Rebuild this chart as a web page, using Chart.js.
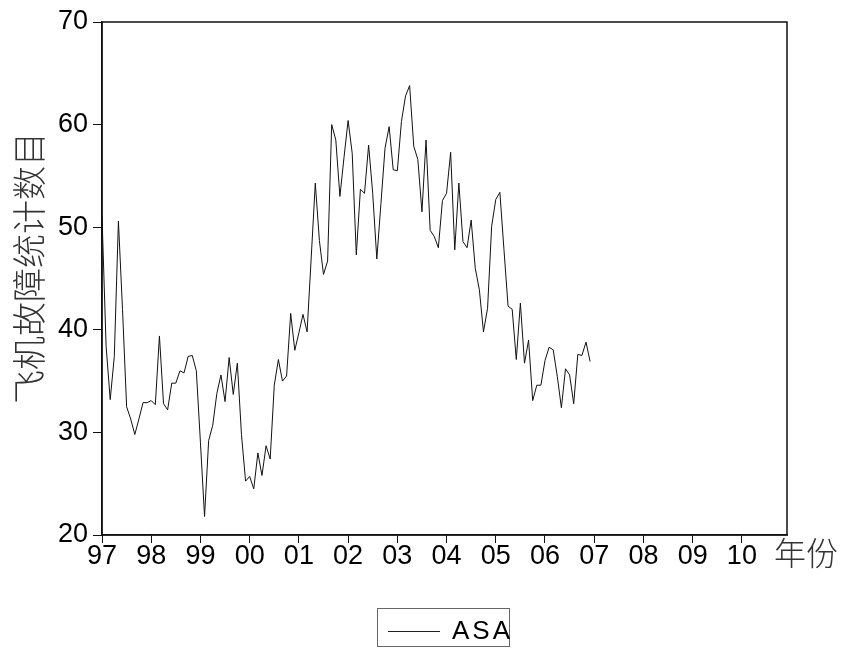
<!DOCTYPE html>
<html>
<head>
<meta charset="utf-8">
<script src="https://cdn.jsdelivr.net/npm/chart.js@4.4.1/dist/chart.umd.min.js"></script>
<style>
    body { margin: 0; background: #fff; }
    #wrap { width: 843px; height: 656px; }
</style>
</head>
<body>
<div id="wrap"><canvas id="graph" width="843" height="656"></canvas></div>
<script>
// monthly ASA counts, 1997M01 - 2006M12
let asaValues = [
    51.1, 38.4, 33.2, 37.4, 50.6, 42.0, 32.5, 31.3, 29.8, 31.3, 32.9, 32.9, // 97
    33.1, 32.7, 39.4, 32.8, 32.2, 34.8, 34.8, 36.0, 35.8, 37.4, 37.5, 36.0, // 98
    29.0, 21.8, 29.2, 30.7, 33.8, 35.6, 33.0, 37.3, 33.7, 36.75, 29.8, 25.25, // 99
    25.7, 24.5, 28.0, 25.8, 28.7, 27.4, 34.6, 37.1, 35.0, 35.5, 41.6, 38.0, // 00
    39.7, 41.5, 39.8, 47.0, 54.3, 48.7, 45.4, 46.7, 60.0, 58.5, 53.0, 56.8, // 01
    60.4, 57.2, 47.3, 53.7, 53.3, 58.0, 53.3, 46.9, 52.3, 57.7, 59.8, 55.6, // 02
    55.5, 60.3, 62.8, 63.8, 57.9, 56.6, 51.5, 58.5, 49.7, 49.1, 48.0, 52.6, // 03
    53.3, 57.3, 47.8, 54.3, 48.6, 48.0, 50.7, 46.0, 43.9, 39.8, 42.1, 50.1, // 04
    52.7, 53.4, 47.8, 42.3, 42.0, 37.1, 42.6, 36.75, 39.0, 33.1, 34.6, 34.6, // 05
    37.0, 38.3, 38.05, 35.45, 32.4, 36.2, 35.6, 32.8, 37.6, 37.5, 38.8, 36.9  // 06
]
let yearLabels = ['97', '98', '99', '00', '01', '02', '03', '04', '05', '06', '07', '08', '09', '10']
let yTicks = [20, 30, 40, 50, 60, 70]
let seriesName = 'ASA'
let yTitle = '飞机故障统计数目'
let xUnit = '年份'

// axis runs over every month of 1997-2010
let monthCount = yearLabels.length * 12

let points = asaValues.map((v, i) => ({ x: i, y: v }))

let cjkFont = '"Noto Sans CJK SC", sans-serif'
let numFont = '"Liberation Sans", Arial, sans-serif'

// box around plot, axis titles and the boxed legend underneath
let extras = {
    id: 'extras',
    afterDraw(chart) {
        let ctx = chart.ctx
        let a = chart.chartArea
        ctx.save()
        ctx.strokeStyle = '#111'
        ctx.lineWidth = 1.5
        ctx.strokeRect(a.left, a.top, a.right - a.left, a.bottom - a.top)

        ctx.fillStyle = '#333'
        ctx.font = '300 34px ' + cjkFont
        ctx.textAlign = 'center'
        ctx.textBaseline = 'middle'
        ctx.save()
        ctx.translate(29, 268)
        ctx.rotate(-Math.PI / 2)
        ctx.fillText(chart.options.plugins.extras.yTitle, 0, 0)
        ctx.restore()
        ctx.textAlign = 'left'
        ctx.font = '300 32px ' + cjkFont
        ctx.fillText(chart.options.plugins.extras.xUnit, 774, 553)

        // legend
        ctx.strokeStyle = '#666'
        ctx.lineWidth = 1
        ctx.strokeRect(377.5, 608.5, 132, 38)
        ctx.strokeStyle = '#222'
        ctx.beginPath()
        ctx.moveTo(388, 631.5)
        ctx.lineTo(440, 631.5)
        ctx.stroke()
        ctx.fillStyle = '#000'
        ctx.font = '26px ' + numFont
        ctx.letterSpacing = '3px'
        ctx.textBaseline = 'alphabetic'
        ctx.fillText(chart.data.datasets[0].label, 452, 639)
        ctx.restore()
    }
}

let ctx = document.getElementById('graph')
let chart = new Chart(ctx, {
    type: 'line',
    data: {
        datasets: [{
            label: seriesName,
            data: points,
            borderColor: '#111',
            borderWidth: 1,
            pointRadius: 0,
            tension: 0
        }]
    },
    options: {
        responsive: false,
        animation: false,
        layout: {
            padding: { top: 22, right: 56, bottom: 0, left: 0 }
        },
        scales: {
            x: {
                type: 'linear',
                min: 0,
                max: monthCount - 1,
                afterBuildTicks: scale => {
                    scale.ticks = yearLabels.map((_, i) => ({ value: i * 12 }))
                },
                afterFit: scale => { scale.height = 121 },
                ticks: {
                    autoSkip: false,
                    maxRotation: 0,
                    padding: -3,
                    color: '#000',
                    font: { family: numFont, size: 27 },
                    callback: value => yearLabels[value / 12]
                },
                grid: { drawOnChartArea: false, drawTicks: true, tickLength: 8, color: '#111' },
                border: { display: true, color: '#111', width: 1.5 }
            },
            y: {
                min: 20,
                max: 70,
                afterBuildTicks: scale => {
                    scale.ticks = yTicks.map(v => ({ value: v }))
                },
                afterFit: scale => { scale.width = 102 },
                ticks: {
                    padding: 5,
                    color: '#000',
                    font: { family: numFont, size: 27 }
                },
                grid: { drawOnChartArea: false, drawTicks: true, tickLength: 9, color: '#111' },
                border: { display: true, color: '#111', width: 1.5 }
            }
        },
        plugins: {
            legend: { display: false },
            tooltip: { enabled: false },
            extras: { yTitle: yTitle, xUnit: xUnit }
        }
    },
    plugins: [extras]
})
</script>
</body>
</html>
